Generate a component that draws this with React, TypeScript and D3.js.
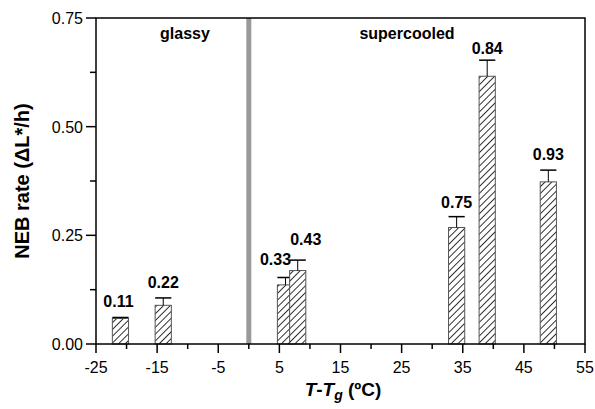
// App.tsx
// NEB rate vs T-Tg bar chart with hatched bars and error bars
import React from "react";
import * as d3 from "d3";

const temps = [-21, -14, 6, 8, 34, 39, 49];
const rates = [0.059, 0.089, 0.136, 0.169, 0.268, 0.616, 0.373];
const errors = [0.002, 0.017, 0.017, 0.024, 0.025, 0.037, 0.027];
const awLabels = ["0.11", "0.22", "0.33", "0.43", "0.75", "0.84", "0.93"];
const xMajor = [-25, -15, -5, 5, 15, 25, 35, 45, 55];
const xMinor = [-20, -10, 0, 10, 20, 30, 40, 50];
const yMajor = [0, 0.25, 0.5, 0.75];
const yMinor = [0.125, 0.375, 0.625];

const W = 595, H = 409;
const left = 96, right = 585, top = 18, bottom = 344;
const font = "'Liberation Sans', Arial, sans-serif";

export default function App() {
  const x = d3.scaleLinear().domain([-25, 55]).range([left, right]);
  const y = d3.scaleLinear().domain([0, 0.75]).range([bottom, top]);
  const barW = x(2.65) - x(0);
  const capW = barW;
  // small nudges so overlapping labels stay readable
  const labelDx = [-2, 0, -10, 8, 0, 0, 0];
  const labelDy = [-10, -10, -12, -15, -9, -6, -10];

  return (
    <svg width={W} height={H} style={{ position: "absolute", left: 0, top: 0, background: "#fff" }}
      fontFamily={font}>
      <defs>
        <pattern id="hatch" patternUnits="userSpaceOnUse" width={4.8} height={4.8}
          patternTransform="rotate(45)">
          <line x1={0} y1={0} x2={0} y2={4.8} stroke="#000" strokeWidth={1.6} />
        </pattern>
      </defs>

      {/* glassy / supercooled divider */}
      <line x1={x(0)} x2={x(0)} y1={top} y2={bottom} stroke="#999" strokeWidth={5} />

      {/* bars */}
      {temps.map((t, i) => (
        <g key={i}>
          <rect x={x(t) - barW / 2} y={y(rates[i])} width={barW} height={bottom - y(rates[i])}
            fill="#fff" />
          <rect x={x(t) - barW / 2} y={y(rates[i])} width={barW} height={bottom - y(rates[i])}
            fill="url(#hatch)" stroke="#555" strokeWidth={1} />
          <line x1={x(t)} x2={x(t)} y1={y(rates[i])} y2={y(rates[i] + errors[i])} stroke="#000" />
          <line x1={x(t) - capW / 2} x2={x(t) + capW / 2} y1={y(rates[i] + errors[i])}
            y2={y(rates[i] + errors[i])} stroke="#000" strokeWidth={1.5} />
          <text x={x(t) + labelDx[i]} y={y(rates[i] + errors[i]) + labelDy[i]} textAnchor="middle"
            fontSize={16} fontWeight="bold">{awLabels[i]}</text>
        </g>
      ))}

      {/* frame */}
      <rect x={left} y={top} width={right - left} height={bottom - top} fill="none" stroke="#000"
        strokeWidth={1.5} />

      {/* x axis ticks */}
      {xMajor.map((v) => (
        <g key={v}>
          <line x1={x(v)} x2={x(v)} y1={bottom} y2={bottom + 9} stroke="#000" strokeWidth={1.5} />
          <text x={x(v)} y={bottom + 29} textAnchor="middle" fontSize={16}>{v}</text>
        </g>
      ))}
      {xMinor.map((v) => (
        <line key={v} x1={x(v)} x2={x(v)} y1={bottom} y2={bottom + 5} stroke="#000" strokeWidth={1.5} />
      ))}

      {/* y axis ticks */}
      {yMajor.map((v) => (
        <g key={v}>
          <line x1={left - 10} x2={left} y1={y(v)} y2={y(v)} stroke="#000" strokeWidth={1.5} />
          <text x={left - 13} y={y(v) + 6} textAnchor="end" fontSize={16}>{d3.format(".2f")(v)}</text>
        </g>
      ))}
      {yMinor.map((v) => (
        <line key={v} x1={left - 6} x2={left} y1={y(v)} y2={y(v)} stroke="#000" strokeWidth={1.5} />
      ))}

      {/* region labels */}
      <text x={185} y={39} textAnchor="middle" fontSize={16} fontWeight="bold">glassy</text>
      <text x={407} y={39} textAnchor="middle" fontSize={16} fontWeight="bold">supercooled</text>

      {/* axis titles */}
      <text transform={`translate(29,${(top + bottom) / 2}) rotate(-90)`} textAnchor="middle"
        fontSize={20} fontWeight="bold">NEB rate (ΔL*/h)</text>
      <text x={343} y={396} textAnchor="middle" fontSize={19} fontWeight="bold">
        <tspan fontStyle="italic">T</tspan>-<tspan fontStyle="italic">T</tspan>
        <tspan fontStyle="italic" fontSize={14} dy={4}>g</tspan>
        <tspan dy={-4}> (ºC)</tspan>
      </text>
    </svg>
  );
}
